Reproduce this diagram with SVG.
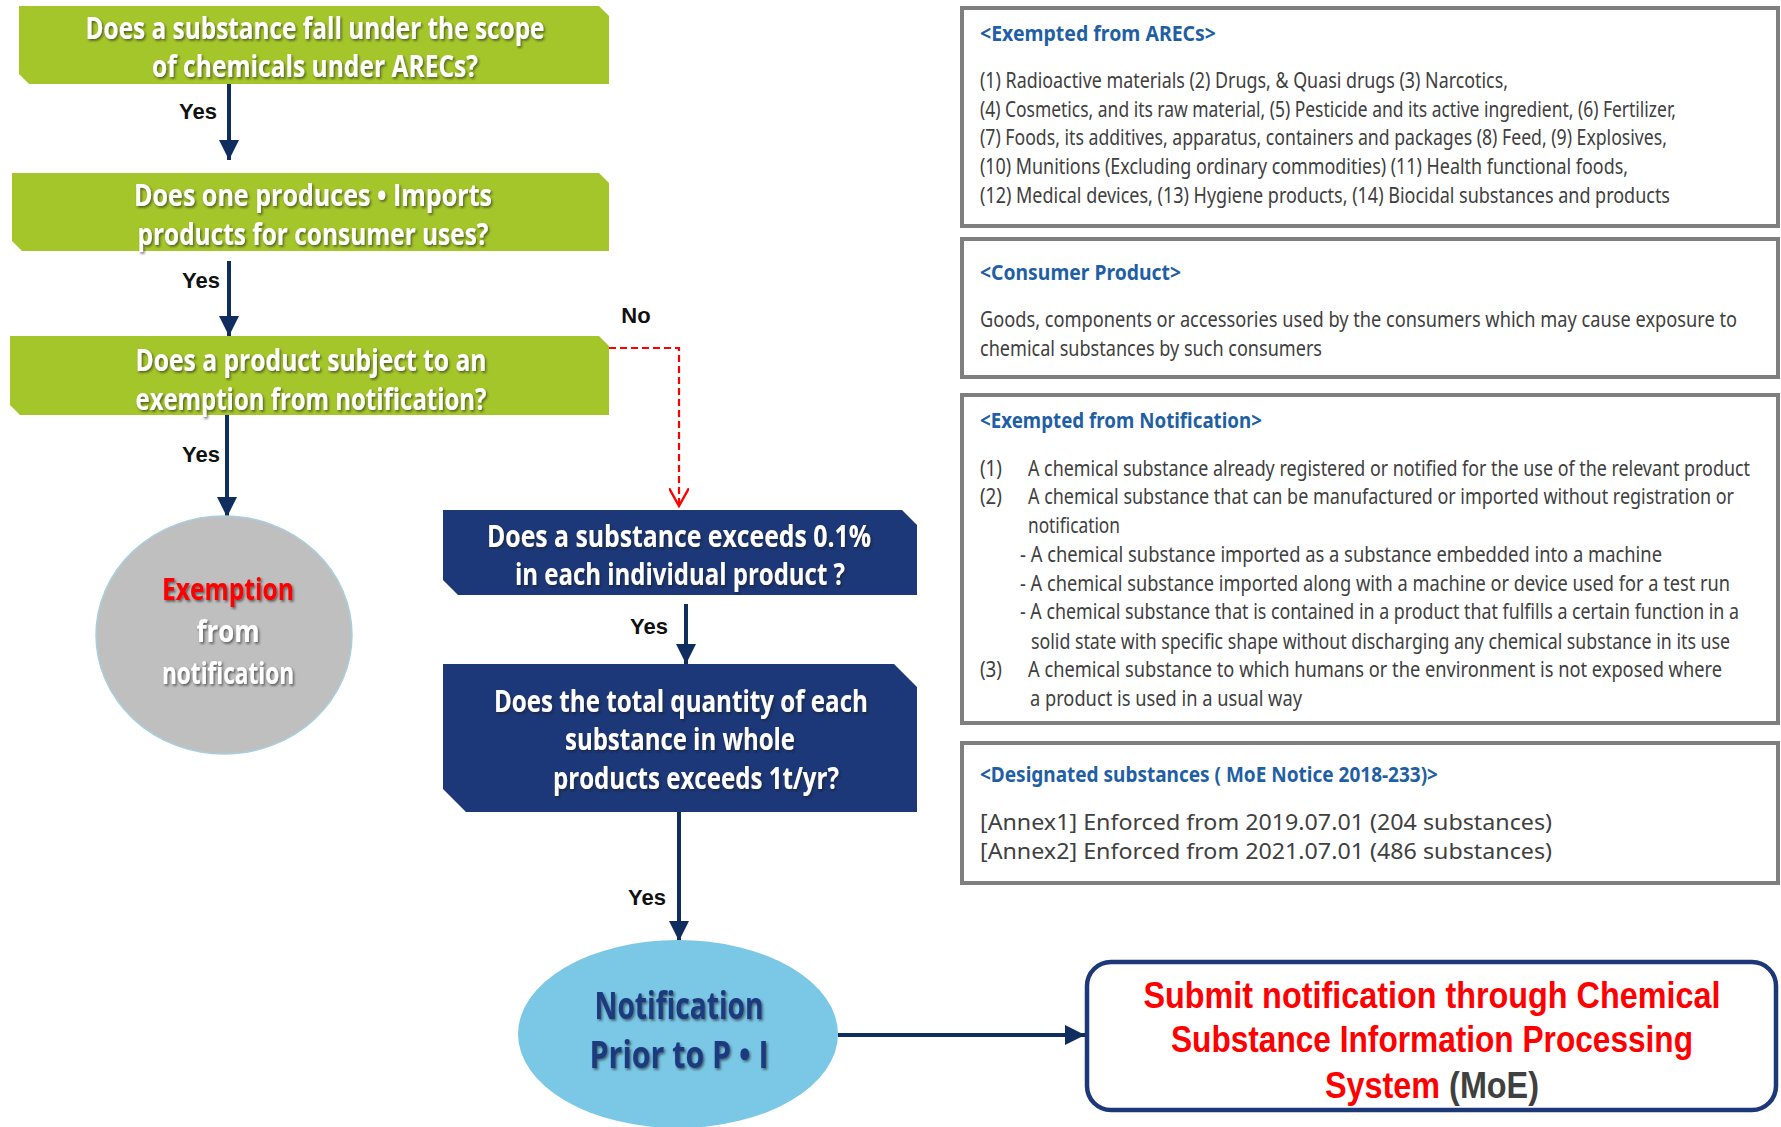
<svg xmlns="http://www.w3.org/2000/svg" width="1781" height="1127" viewBox="0 0 1781 1127">
<defs>
<filter id="sh" x="-10%" y="-30%" width="120%" height="160%">
<feDropShadow dx="1.8" dy="1.8" stdDeviation="1" flood-color="#222" flood-opacity="0.6"/>
</filter>
<marker id="ah" viewBox="0 0 10 10" refX="10" refY="5" markerWidth="5" markerHeight="5" orient="auto" markerUnits="strokeWidth">
<path d="M0,0 L10,5 L0,10 z" fill="#0F2D5E"/>
</marker>
<marker id="ahr" viewBox="0 0 10 10" refX="9" refY="5" markerWidth="9" markerHeight="9" orient="auto" markerUnits="strokeWidth">
<path d="M0,0 L9,5 L0,10" fill="none" stroke="#FF0000" stroke-width="1.2"/>
</marker>
</defs>
<style>
.q{font-family:"Open Sans","Liberation Sans",sans-serif;font-weight:bold;font-size:31px;fill:#fff;text-anchor:middle}
.g{fill:#A4C62A}
.b{fill:#1C3879}
.lbl{font-family:"Liberation Sans",sans-serif;font-weight:bold;font-size:22px;fill:#111;text-anchor:middle}
.pan{fill:#fff;stroke:#7F7F7F;stroke-width:4}
.pt{font-family:"Noto Sans","Liberation Sans",sans-serif;font-weight:bold;font-size:21px;fill:#1F5FA5}
.tx{font-family:"Noto Sans","Liberation Sans",sans-serif;font-size:21px;fill:#404040}
.an{font-family:"Noto Sans","Liberation Sans",sans-serif;font-size:22px;fill:#404040}
.con{stroke:#0F2D5E;stroke-width:4;fill:none}
.rt{font-family:"Liberation Sans",sans-serif;font-weight:bold;font-size:37px;fill:#FF0000;text-anchor:middle}
</style>
<rect width="1781" height="1127" fill="#fff"/>

<g id="connectors">
<line class="con" x1="229" y1="84" x2="229" y2="160" marker-end="url(#ah)"/>
<line class="con" x1="229" y1="261" x2="229" y2="336" marker-end="url(#ah)"/>
<line class="con" x1="227" y1="415" x2="227" y2="517" marker-end="url(#ah)"/>
<polyline points="609,348 679,348 679,506" fill="none" stroke="#FF0000" stroke-width="2.2" stroke-dasharray="7,4" marker-end="url(#ahr)"/>
<line class="con" x1="686" y1="604" x2="686" y2="664" marker-end="url(#ah)"/>
<line class="con" x1="679" y1="812" x2="679" y2="941" marker-end="url(#ah)"/>
<line class="con" x1="838" y1="1035" x2="1085" y2="1035" marker-end="url(#ah)"/>
<text class="lbl" x="198" y="119">Yes</text>
<text class="lbl" x="201" y="288">Yes</text>
<text class="lbl" x="201" y="462">Yes</text>
<text class="lbl" x="636" y="323">No</text>
<text class="lbl" x="649" y="634">Yes</text>
<text class="lbl" x="647" y="905">Yes</text>
</g>

<g id="q1">
<polygon class="g" points="19,6 599,6 609,16 609,84 29,84 19,74"/>
<g transform="matrix(0.8,0,0,1,63,0)" filter="url(#sh)">
<text class="q" x="315" y="39" textLength="573.75" lengthAdjust="spacingAndGlyphs">Does a substance fall under the scope</text>
<text class="q" x="315" y="77" textLength="407.5" lengthAdjust="spacingAndGlyphs">of chemicals under ARECs?</text>
</g>
</g>

<g id="q2">
<polygon class="g" points="12,173 599,173 609,183 609,251 22,251 12,241"/>
<g transform="matrix(0.8,0,0,1,62.6,0)" filter="url(#sh)">
<text class="q" x="313" y="206" textLength="447.5" lengthAdjust="spacingAndGlyphs">Does one produces • Imports</text>
<text class="q" x="313" y="245" textLength="438.75" lengthAdjust="spacingAndGlyphs">products for consumer uses?</text>
</g>
</g>

<g id="q3">
<polygon class="g" points="10,336 599,336 609,346 609,415 20,415 10,405"/>
<g transform="matrix(0.8,0,0,1,62.2,0)" filter="url(#sh)">
<text class="q" x="311" y="371" textLength="438.75" lengthAdjust="spacingAndGlyphs">Does a product subject to an</text>
<text class="q" x="311" y="410" textLength="438.75" lengthAdjust="spacingAndGlyphs">exemption from notification?</text>
</g>
</g>

<g id="exemption">
<ellipse cx="224" cy="635" rx="128" ry="119" fill="#BFBFBF" stroke="#A8CFE0" stroke-width="1.5"/>
<g transform="matrix(0.8,0,0,1,45.6,0)" filter="url(#sh)">
<text class="q" x="228" y="600" textLength="165" lengthAdjust="spacingAndGlyphs" style="fill:#FF0000">Exemption</text>
<text class="q" x="228" y="642" textLength="78.75" lengthAdjust="spacingAndGlyphs">from</text>
<text class="q" x="228" y="684" textLength="165" lengthAdjust="spacingAndGlyphs">notification</text>
</g>
</g>

<g id="q4">
<polygon class="b" points="443,510 902,510 917,525 917,595 458,595 443,580"/>
<g transform="matrix(0.8,0,0,1,136,0)" filter="url(#sh)">
<text class="q" x="678.75" y="547" textLength="480" lengthAdjust="spacingAndGlyphs">Does a substance exceeds 0.1%</text>
<text class="q" x="680" y="585" textLength="412.5" lengthAdjust="spacingAndGlyphs">in each individual product ?</text>
</g>
</g>

<g id="q5">
<polygon class="b" points="443,664 894,664 917,687 917,812 466,812 443,789"/>
<g transform="matrix(0.8,0,0,1,136,0)" filter="url(#sh)">
<text class="q" x="681.25" y="712" textLength="467.5" lengthAdjust="spacingAndGlyphs">Does the total quantity of each</text>
<text class="q" x="680" y="750" textLength="287.5" lengthAdjust="spacingAndGlyphs">substance in whole</text>
<text class="q" x="700" y="789" textLength="357.5" lengthAdjust="spacingAndGlyphs">products exceeds 1t/yr?</text>
</g>
</g>

<g id="notification">
<ellipse cx="678" cy="1034" rx="160" ry="94" fill="#7AC8E6"/>
<g transform="matrix(0.8,0,0,1,135.8,0)" filter="url(#sh)">
<text class="q" x="679" y="1019" textLength="211.25" lengthAdjust="spacingAndGlyphs" style="fill:#1F3A7E;font-size:37px">Notification</text>
<text class="q" x="679" y="1068" textLength="223.75" lengthAdjust="spacingAndGlyphs" style="fill:#1F3A7E;font-size:37px">Prior to P • I</text>
</g>
</g>

<g id="submit">
<rect x="1087" y="962" width="689" height="148" rx="24" ry="24" fill="#fff" stroke="#1C3879" stroke-width="4.5"/>
<g transform="matrix(0.8,0,0,1,286.4,0)">
<text class="rt" x="1432" y="1008" textLength="721.25" lengthAdjust="spacingAndGlyphs">Submit notification through Chemical</text>
<text class="rt" x="1432" y="1052" textLength="652.5" lengthAdjust="spacingAndGlyphs">Substance Information Processing</text>
<text class="rt" x="1432" y="1098" textLength="267.5" lengthAdjust="spacingAndGlyphs">System <tspan style="fill:#404040">(MoE)</tspan></text>
</g>
</g>

<g id="panel-arecs">
<rect class="pan" x="962" y="8" width="816" height="218"/>
<g transform="matrix(0.8,0,0,1,196,0)">
<text class="pt" x="980" y="41" textLength="295" lengthAdjust="spacingAndGlyphs">&lt;Exempted from ARECs&gt;</text>
<text class="tx" x="980" y="88" textLength="660" lengthAdjust="spacingAndGlyphs">(1) Radioactive materials (2) Drugs, &amp; Quasi drugs (3) Narcotics,</text>
<text class="tx" x="980" y="117" textLength="870" lengthAdjust="spacingAndGlyphs">(4) Cosmetics, and its raw material, (5) Pesticide and its active ingredient, (6) Fertilizer,</text>
<text class="tx" x="980" y="145" textLength="858.75" lengthAdjust="spacingAndGlyphs">(7) Foods, its additives, apparatus, containers and packages (8) Feed,  (9) Explosives,</text>
<text class="tx" x="980" y="174" textLength="810" lengthAdjust="spacingAndGlyphs">(10) Munitions (Excluding ordinary commodities) (11) Health functional foods,</text>
<text class="tx" x="980" y="203" textLength="862.5" lengthAdjust="spacingAndGlyphs">(12) Medical devices, (13) Hygiene products, (14) Biocidal substances and products</text>
</g>
</g>

<g id="panel-consumer">
<rect class="pan" x="962" y="239" width="816" height="138"/>
<g transform="matrix(0.8,0,0,1,196,0)">
<text class="pt" x="980" y="280" textLength="251.25" lengthAdjust="spacingAndGlyphs">&lt;Consumer Product&gt;</text>
<text class="tx" x="980" y="327" textLength="946.25" lengthAdjust="spacingAndGlyphs">Goods, components or accessories used by the consumers which may cause exposure to</text>
<text class="tx" x="980" y="356" textLength="427.5" lengthAdjust="spacingAndGlyphs">chemical substances by such consumers</text>
</g>
</g>

<g id="panel-notification">
<rect class="pan" x="962" y="395" width="816" height="328"/>
<g transform="matrix(0.8,0,0,1,196,0)">
<text class="pt" x="980" y="428" textLength="352.5" lengthAdjust="spacingAndGlyphs">&lt;Exempted from Notification&gt;</text>
<text class="tx" x="980" y="476" textLength="27.5" lengthAdjust="spacingAndGlyphs">(1)</text>
<text class="tx" x="1040" y="476" textLength="902.5" lengthAdjust="spacingAndGlyphs">A chemical substance already registered or notified for the use of the relevant product</text>
<text class="tx" x="980" y="504" textLength="27.5" lengthAdjust="spacingAndGlyphs">(2)</text>
<text class="tx" x="1040" y="504" textLength="882.5" lengthAdjust="spacingAndGlyphs">A chemical substance that can be manufactured or imported without registration or</text>
<text class="tx" x="1040" y="533" textLength="115" lengthAdjust="spacingAndGlyphs">notification</text>
<text class="tx" x="1030" y="562" textLength="802.5" lengthAdjust="spacingAndGlyphs">- A chemical substance imported as a substance embedded into a machine</text>
<text class="tx" x="1030" y="591" textLength="887.5" lengthAdjust="spacingAndGlyphs">- A chemical substance imported along with a machine or device used for a test run</text>
<text class="tx" x="1030" y="619" textLength="898.75" lengthAdjust="spacingAndGlyphs">- A chemical substance that is contained in a product that fulfills a certain function in a</text>
<text class="tx" x="1043.75" y="649" textLength="873.75" lengthAdjust="spacingAndGlyphs">solid state with specific shape without discharging any chemical substance in its use</text>
<text class="tx" x="980" y="677" textLength="27.5" lengthAdjust="spacingAndGlyphs">(3)</text>
<text class="tx" x="1040" y="677" textLength="867.5" lengthAdjust="spacingAndGlyphs">A chemical substance to which humans or the environment is not exposed where</text>
<text class="tx" x="1042.5" y="706" textLength="340" lengthAdjust="spacingAndGlyphs">a product is used in a usual way</text>
</g>
</g>

<g id="panel-designated">
<rect class="pan" x="962" y="743" width="816" height="140"/>
<g transform="matrix(0.8,0,0,1,196,0)">
<text class="pt" x="980" y="782" textLength="572.5" lengthAdjust="spacingAndGlyphs">&lt;Designated substances ( MoE Notice 2018-233)&gt;</text>
</g>
<text class="an" x="980" y="830" textLength="572" lengthAdjust="spacingAndGlyphs">[Annex1]  Enforced  from  2019.07.01  (204  substances)</text>
<text class="an" x="980" y="859" textLength="572" lengthAdjust="spacingAndGlyphs">[Annex2]  Enforced  from  2021.07.01  (486  substances)</text>
</g>
</svg>
